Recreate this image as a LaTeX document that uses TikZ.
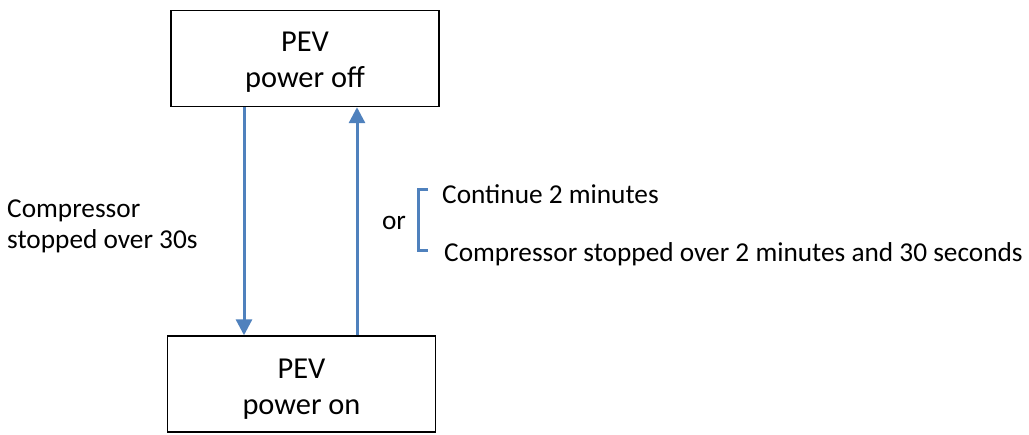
\documentclass[tikz,border=0pt]{standalone}
\usepackage{fontspec}
\setmainfont{Carlito}
\usetikzlibrary{arrows.meta}
\definecolor{flowblue}{HTML}{4F81BD}
\begin{document}
\begin{tikzpicture}[x=1pt,y=-1pt,
  state/.style={draw=black,line width=1.4pt,minimum width=268pt,minimum height=96pt,inner sep=0pt},
  statetext/.style={align=center,inner sep=0pt,font=\fontsize{30.4}{36}\selectfont},
  arr/.style={draw=flowblue,line width=3pt,-{Triangle[width=16pt,length=16pt]}},
  lbl/.style={font=\fontsize{27.3}{31}\selectfont,inner sep=0pt,align=left},
  brk/.style={draw=flowblue,line width=3pt}]
\useasboundingbox (0,0) rectangle (1029,435);
% the two states
\node[state] (top) at (305,58.5) {};
\node[statetext] (toptext) at ([yshift=-4pt]top.center) {PEV\\power off};
\node[state] (bot) at (301.5,384) {};
\node[statetext] (bottext) at ([yshift=-5pt]bot.center) {PEV\\power on};
% transitions
\coordinate (dx) at (244,0);
\coordinate (ux) at (357,0);
\draw[arr] (top.south -| dx) -- (bot.north -| dx);
\draw[arr] (bot.north -| ux) -- (top.south -| ux);
% conditions
\node[lbl,anchor=base west] (cond) at (7,249) {Compressor\\stopped over 30s};
\node[lbl,anchor=base] (or) at (394,230) {or};
\coordinate (b1) at (428,190);
\coordinate (b2) at (418,190);
\coordinate (b3) at (418,251);
\coordinate (b4) at (428,251);
\draw[brk] (b1) -- (b2) -- (b3) -- (b4);
\node[lbl,anchor=base west] (c1) at (442,204) {Continue 2 minutes};
\node[lbl,anchor=base west] (c2) at (444,262) {Compressor stopped over 2 minutes and 30 seconds};
\end{tikzpicture}
\end{document}
